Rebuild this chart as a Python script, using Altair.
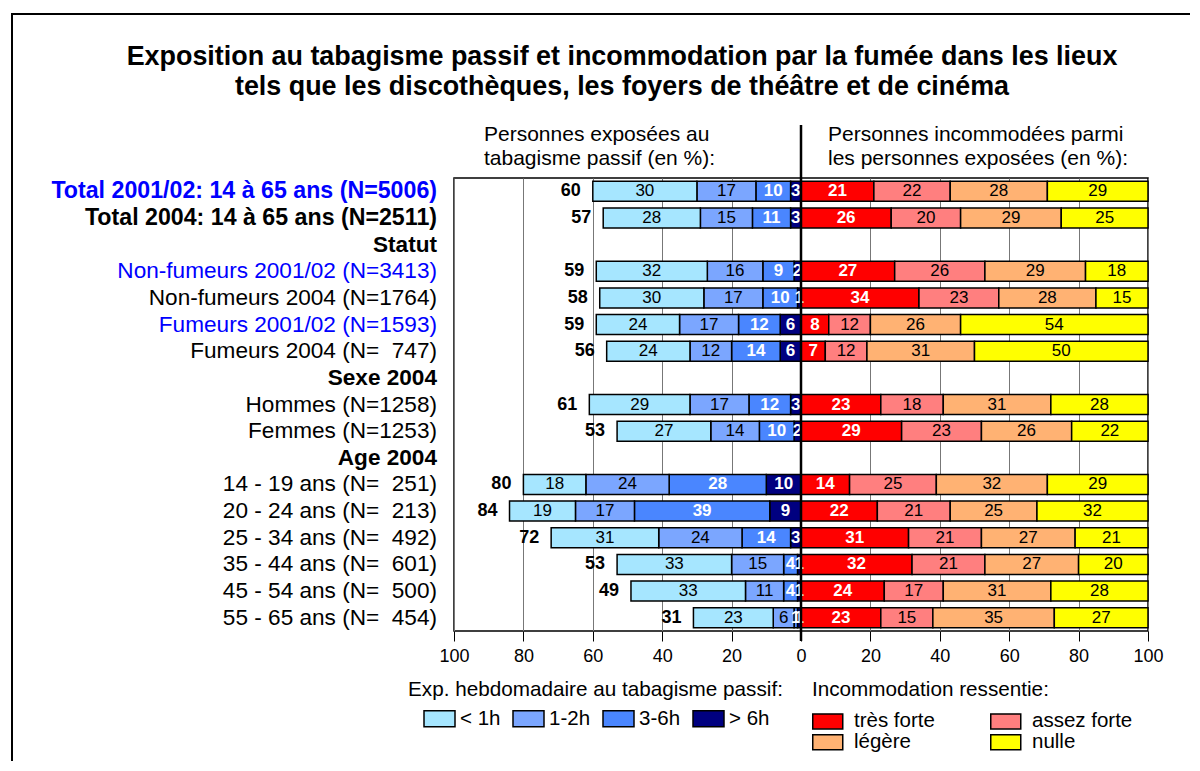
import altair as alt
import pandas as pd

FONT = "Liberation Sans"

# ---------------- data ----------------
row_labels = [
    "Total 2001/02: 14 à 65 ans (N=5006)",
    "Total 2004: 14 à 65 ans (N=2511)",
    "Statut",
    "Non-fumeurs 2001/02 (N=3413)",
    "Non-fumeurs 2004 (N=1764)",
    "Fumeurs 2001/02 (N=1593)",
    "Fumeurs 2004 (N=\u00a0 747)",
    "Sexe 2004",
    "Hommes (N=1258)",
    "Femmes (N=1253)",
    "Age 2004",
    "14 - 19 ans (N=\u00a0 251)",
    "20 - 24 ans (N=\u00a0 213)",
    "25 - 34 ans (N=\u00a0 492)",
    "35 - 44 ans (N=\u00a0 601)",
    "45 - 54 ans (N=\u00a0 500)",
    "55 - 65 ans (N=\u00a0 454)",
]
row_bold = [True, True, True, False, False, False, False, True, False, False, True,
            False, False, False, False, False, False]
row_blue = [True, False, False, True, False, True, False, False, False, False, False,
            False, False, False, False, False, False]
row_size = [23.2, 23.2, 22.6, 22.6, 22.6, 22.6, 22.6, 22.6, 22.6, 22.6, 22.6,
            22.6, 22.6, 22.6, 22.6, 22.6, 22.6]

data_rows = [r for r in row_labels if r not in ("Statut", "Sexe 2004", "Age 2004")]

exp_cats = ["< 1h", "1-2h", "3-6h", "> 6h"]
exp_colors = ["#A6E6FF", "#7BA6FF", "#4A86FF", "#000080"]
exp_lt1 = [30, 28, 32, 30, 24, 24, 29, 27, 18, 19, 31, 33, 33, 23]
exp_1_2 = [17, 15, 16, 17, 17, 12, 17, 14, 24, 17, 24, 15, 11, 6]
exp_3_6 = [10, 11, 9, 10, 12, 14, 12, 10, 28, 39, 14, 4, 4, 1]
exp_gt6 = [3, 3, 2, 1, 6, 6, 3, 2, 10, 9, 3, 1, 1, 1]
exp_total = [60, 57, 59, 58, 59, 56, 61, 53, 80, 84, 72, 53, 49, 31]

inc_cats = ["très forte", "assez forte", "légère", "nulle"]
inc_colors = ["#FF0000", "#FF7F7F", "#FFB273", "#FFFF00"]
inc_tf = [21, 26, 27, 34, 8, 7, 23, 29, 14, 22, 31, 32, 24, 23]
inc_af = [22, 20, 26, 23, 12, 12, 18, 23, 25, 21, 21, 21, 17, 15]
inc_leg = [28, 29, 29, 28, 26, 31, 31, 26, 32, 25, 27, 27, 31, 35]
inc_nul = [29, 25, 18, 15, 54, 50, 28, 22, 29, 32, 21, 20, 28, 27]

x_ticks = [-100, -80, -60, -40, -20, 0, 20, 40, 60, 80, 100]

title_lines = [
    "Exposition au tabagisme passif et incommodation par la fumée dans les lieux",
    "tels que les discothèques, les foyers de théâtre et de cinéma",
]
head_left = ["Personnes exposées au", "tabagisme passif (en %):"]
head_right = ["Personnes incommodées parmi", "les personnes exposées (en %):"]
leg1_title = "Exp. hebdomadaire au tabagisme passif:"
leg2_title = "Incommodation ressentie:"

# ---------------- tables ----------------
exp_recs = []
inc_recs = []
for i, row in enumerate(data_rows):
    # exposure: stacked leftwards from 0 (> 6h nearest to zero)
    c = 0
    for cat, v in [("> 6h", exp_gt6[i]), ("3-6h", exp_3_6[i]),
                   ("1-2h", exp_1_2[i]), ("< 1h", exp_lt1[i])]:
        exp_recs.append(dict(row=row, cat=cat, x0=-c, x1=-(c + v), mid=-(c + v / 2),
                             label=str(v), white=cat in ("3-6h", "> 6h")))
        c += v
    c = 0
    for cat, v in [("très forte", inc_tf[i]), ("assez forte", inc_af[i]),
                   ("légère", inc_leg[i]), ("nulle", inc_nul[i])]:
        inc_recs.append(dict(row=row, cat=cat, x0=c, x1=c + v, mid=c + v / 2,
                             label=str(v), white=cat == "très forte"))
        c += v
df_exp = pd.DataFrame(exp_recs)
df_inc = pd.DataFrame(inc_recs)
df_tot = pd.DataFrame(dict(row=data_rows, total=[-t for t in exp_total],
                           label=[str(t) for t in exp_total]))
df_rows = pd.DataFrame(dict(row=row_labels, bold=row_bold, blue=row_blue, fs=row_size))
df_seg = pd.concat([df_exp[["row", "mid", "label", "white"]],
                    df_inc[["row", "mid", "label", "white"]]], ignore_index=True)

W, H = 694, 453
y_scale = alt.Scale(domain=row_labels, paddingInner=0.25, paddingOuter=0.125)
x_scale = alt.Scale(domain=[-100, 100], nice=False, zero=False)
Y = alt.Y("row:N", scale=y_scale, axis=None)

one = alt.Data(values=[{}])

# frame around everything
frame = alt.Chart(one).mark_rect(fillOpacity=0, stroke="black", strokeWidth=2).encode(
    x=alt.value(-442), y=alt.value(-164), x2=alt.value(1100), y2=alt.value(900)
)

exp_bars = alt.Chart(df_exp).mark_bar(stroke="black", strokeWidth=1.5).encode(
    x=alt.X("x0:Q", scale=x_scale, title=None,
            axis=alt.Axis(values=x_ticks, labelExpr="abs(datum.value)", grid=True,
                          labelFlush=False)),
    x2="x1:Q",
    y=Y,
    fill=alt.Fill("cat:N", scale=alt.Scale(domain=exp_cats, range=exp_colors),
                  legend=alt.Legend(orient="none", legendX=-31, legendY=524,
                                    direction="horizontal", columns=4, title=None,
                                    symbolType="M-1,-0.516L1,-0.516L1,0.516L-1,0.516Z",
                                    symbolSize=961, symbolStrokeColor="black",
                                    symbolStrokeWidth=1.5, symbolOpacity=1,
                                    labelFont=FONT, labelFontSize=20.5, labelColor="black",
                                    labelOffset=4, columnPadding=9, padding=0)),
)

# legend symbols drawn wider than their nominal (square) size so that rows stay tight
inc_bars = alt.Chart(df_inc).mark_bar(stroke="black", strokeWidth=1.5).encode(
    x=alt.X("x0:Q", scale=x_scale, title=None),
    x2="x1:Q",
    y=Y,
    color=alt.Color("cat:N", scale=alt.Scale(domain=inc_cats, range=inc_colors),
                    legend=alt.Legend(orient="none", legendX=357, legendY=533,
                                      direction="horizontal", columns=2, title=None,
                                      symbolType="M-2,-1L2,-1L2,1L-2,1Z",
                                      symbolSize=225, symbolOffset=6.5,
                                      symbolStrokeColor="black",
                                      symbolStrokeWidth=1.5, symbolOpacity=1,
                                      labelFont=FONT, labelFontSize=20.5, labelColor="black",
                                      labelOffset=16, columnPadding=52, rowPadding=-1,
                                      padding=0)),
)

seg_white = alt.Chart(df_seg).transform_filter("datum.white").mark_text(
    font=FONT, fontSize=17, fontWeight="bold", color="white", baseline="middle"
).encode(x=alt.X("mid:Q", scale=x_scale, title=None), y=Y, text="label:N")

seg_black = alt.Chart(df_seg).transform_filter("!datum.white").mark_text(
    font=FONT, fontSize=17, color="black", baseline="middle"
).encode(x=alt.X("mid:Q", scale=x_scale, title=None), y=Y, text="label:N")

totals = alt.Chart(df_tot).mark_text(
    font=FONT, fontSize=18, fontWeight="bold", color="black", align="right",
    baseline="middle", dx=-12
).encode(x=alt.X("total:Q", scale=x_scale, title=None), y=Y, text="label:N")


def row_text(bold, blue):
    return alt.Chart(df_rows).transform_filter(
        f"datum.bold == {str(bold).lower()} && datum.blue == {str(blue).lower()}"
    ).mark_text(
        font=FONT, fontWeight="bold" if bold else "normal",
        color="#0000FF" if blue else "black", align="right", baseline="middle"
    ).encode(x=alt.value(-17), y=Y, text="row:N",
             size=alt.Size("fs:Q", scale=None, legend=None))


row_layers = [row_text(b, c) for b in (True, False) for c in (True, False)]

title = alt.Chart(one).mark_text(
    text=title_lines, font=FONT, fontSize=26.9, fontWeight="bold", lineHeight=30,
    align="center", baseline="middle", color="black"
).encode(x=alt.value(168), y=alt.value(-121))

hl = alt.Chart(one).mark_text(
    text=head_left, font=FONT, fontSize=21, lineHeight=24, align="left",
    baseline="middle", color="black"
).encode(x=alt.value(30), y=alt.value(-43))

hr = alt.Chart(one).mark_text(
    text=head_right, font=FONT, fontSize=21, lineHeight=24, align="left",
    baseline="middle", color="black"
).encode(x=alt.value(374), y=alt.value(-43))

lt1 = alt.Chart(one).mark_text(
    text=leg1_title, font=FONT, fontSize=20.7, align="left", baseline="middle", color="black"
).encode(x=alt.value(-46), y=alt.value(512))

lt2 = alt.Chart(one).mark_text(
    text=leg2_title, font=FONT, fontSize=20.7, align="left", baseline="middle", color="black"
).encode(x=alt.value(358), y=alt.value(512))

zero = alt.Chart(one).mark_rule(color="black", strokeWidth=2.5).encode(
    x=alt.X(datum=0, scale=x_scale, title=None), y=alt.value(-53), y2=alt.value(463)
)

chart = alt.layer(
    frame, exp_bars, inc_bars, seg_black, seg_white, totals, *row_layers,
    title, hl, hr, lt1, lt2, zero
).properties(
    width=W, height=H,
    autosize=alt.AutoSizeParams(type="none"),
    padding={"left": 446, "top": 170, "right": 42, "bottom": 130},
).configure_view(
    stroke="black", strokeWidth=1.5
).configure_axisX(
    labelFont=FONT, labelFontSize=18, labelColor="black", tickColor="black",
    tickSize=10, tickWidth=1, domain=False, gridColor="#777777", gridWidth=1,
    labelPadding=6
)

chart.save("out.html", embed_options={"renderer": "svg", "actions": False})
